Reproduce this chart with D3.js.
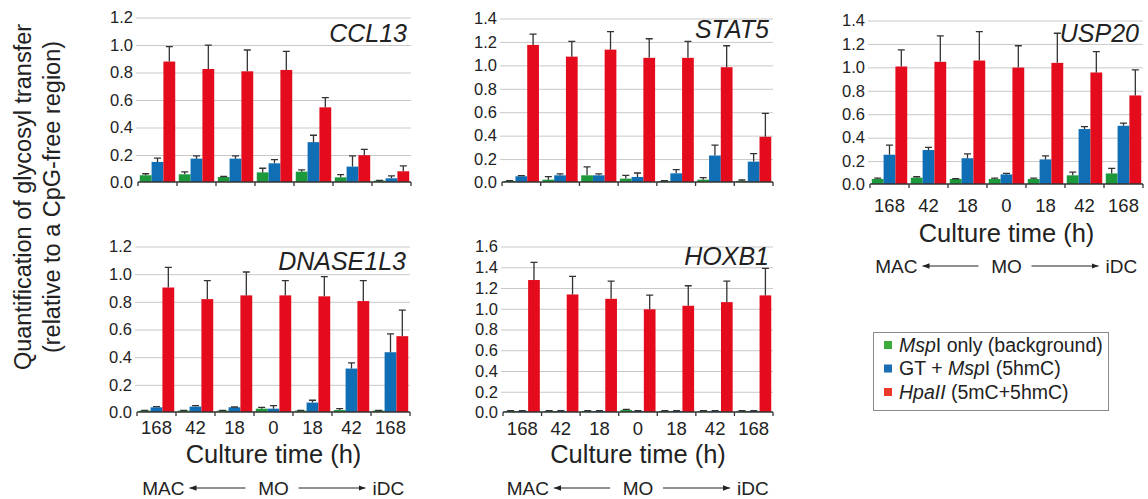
<!DOCTYPE html>
<html>
<head>
<meta charset="utf-8">
<style>
body { margin: 0; background: #fff; }
svg { display: block; font-family: "Liberation Sans", Arial, sans-serif; }
.grid line { stroke: #c9c9c9; stroke-width: 1px; }
.grid .domain { display: none; }
.grid text { fill: #222; font-size: 16.5px; }
.xlab .domain { display: none; }
.xlab text { fill: #222; font-size: 18.5px; }
.base { stroke: #333; stroke-width: 1.3px; }
.err { stroke: #333; stroke-width: 1.3px; fill: none; }
</style>
<script src="https://cdn.jsdelivr.net/npm/d3@7"></script>
</head>
<body>
<script>

// culture time groups: MAC <- MO -> iDC
var times = ["168", "42", "18", "0", "18", "42", "168"];

var barColors = ["#1c9a3b", "#106eb5", "#e30b1c"];
var legendColors = ["#3aab3a", "#1b6db4", "#e8392b"];

// [text, italic] pieces per legend row
var legendRows = [
  [["Msp", true], ["I only (background)", false]],
  [["GT + ", false], ["Msp", true], ["I (5hmC)", false]],
  [["HpaII", true], [" (5mC+5hmC)", false]]
];

// rows: MspI only, GT + MspI, HpaII
var ccl13Mean = [
  [0.049, 0.056, 0.036, 0.070, 0.075, 0.034, 0.010],
  [0.146, 0.170, 0.170, 0.136, 0.290, 0.112, 0.027],
  [0.876, 0.822, 0.805, 0.815, 0.543, 0.195, 0.078]
];
var ccl13Sd = [
  [0.011, 0.017, 0.004, 0.030, 0.013, 0.020, 0.002],
  [0.027, 0.020, 0.020, 0.027, 0.050, 0.078, 0.017],
  [0.109, 0.173, 0.155, 0.135, 0.070, 0.043, 0.039]
];

var stat5Mean = [
  [0.009, 0.020, 0.057, 0.029, 0.009, 0.020, 0.009],
  [0.049, 0.057, 0.057, 0.043, 0.074, 0.226, 0.174],
  [1.170, 1.070, 1.130, 1.060, 1.060, 0.980, 0.386]
];
var stat5Sd = [
  [0.003, 0.026, 0.072, 0.028, 0.003, 0.017, 0.008],
  [0.005, 0.012, 0.012, 0.034, 0.032, 0.088, 0.069],
  [0.093, 0.130, 0.153, 0.163, 0.140, 0.183, 0.200]
];

var usp20Mean = [
  [0.043, 0.054, 0.043, 0.043, 0.043, 0.074, 0.090],
  [0.250, 0.290, 0.220, 0.082, 0.210, 0.469, 0.497],
  [1.003, 1.043, 1.054, 0.994, 1.034, 0.952, 0.756]
];
var usp20Sd = [
  [0.007, 0.008, 0.002, 0.007, 0.007, 0.028, 0.043],
  [0.082, 0.022, 0.038, 0.008, 0.030, 0.020, 0.023],
  [0.142, 0.221, 0.246, 0.186, 0.253, 0.178, 0.218]
];

var dnaseMean = [
  [0.010, 0.010, 0.010, 0.024, 0.010, 0.014, 0.010],
  [0.034, 0.039, 0.034, 0.024, 0.068, 0.314, 0.432],
  [0.900, 0.816, 0.843, 0.843, 0.836, 0.802, 0.548]
];
var dnaseSd = [
  [0.002, 0.002, 0.002, 0.010, 0.002, 0.010, 0.001],
  [0.005, 0.007, 0.002, 0.022, 0.017, 0.041, 0.133],
  [0.146, 0.134, 0.169, 0.107, 0.142, 0.148, 0.189]
];

var hoxb1Mean = [
  [0.010, 0.010, 0.010, 0.020, 0.010, 0.010, 0.010],
  [0.010, 0.010, 0.010, 0.010, 0.010, 0.010, 0.010],
  [1.272, 1.133, 1.091, 0.990, 1.024, 1.059, 1.124]
];
var hoxb1Sd = [
  [0.002, 0.002, 0.002, 0.006, 0.002, 0.002, 0.002],
  [0.002, 0.002, 0.002, 0.002, 0.002, 0.002, 0.002],
  [0.170, 0.174, 0.171, 0.137, 0.193, 0.203, 0.260]
];

var panels = [
  {gene: "CCL13",    mean: ccl13Mean, sd: ccl13Sd, max: 1.2, left: 138, right: 411, top: 17,  bottom: 182, labelY: 42},
  {gene: "STAT5",    mean: stat5Mean, sd: stat5Sd, max: 1.4, left: 502, right: 773, top: 18,  bottom: 182, labelY: 38},
  {gene: "USP20",    mean: usp20Mean, sd: usp20Sd, max: 1.4, left: 870, right: 1143, top: 20, bottom: 184, labelY: 42,
     xAxis: {tick: 28, title: 58, arrows: 89}},
  {gene: "DNASE1L3", mean: dnaseMean, sd: dnaseSd, max: 1.2, left: 137, right: 410, top: 246, bottom: 412, labelY: 270,
     xAxis: {tick: 22, title: 51, arrows: 83}},
  {gene: "HOXB1",    mean: hoxb1Mean, sd: hoxb1Sd, max: 1.6, left: 503, right: 773, top: 246, bottom: 412, labelY: 265,
     xAxis: {tick: 23, title: 51, arrows: 83}}
];

var svg = d3.select("body").append("svg")
    .attr("width", 1148)
    .attr("height", 499);

var defs = svg.append("defs");
defs.append("marker")
    .attr("id", "head")
    .attr("viewBox", "0 0 10 10")
    .attr("refX", 10).attr("refY", 5)
    .attr("markerWidth", 7).attr("markerHeight", 7)
    .attr("markerUnits", "userSpaceOnUse")
    .attr("orient", "auto-start-reverse")
  .append("path")
    .attr("d", "M0,1L10,5L0,9Z")
    .attr("fill", "#222");

panels.forEach(function(p) {
  var g = svg.append("g");

  var y = d3.scaleLinear().domain([0, p.max]).range([p.bottom, p.top]);
  var x = d3.scaleBand().domain(d3.range(times.length)).range([p.left, p.right]);
  var xs = d3.scaleBand().domain(d3.range(3)).range([0, x.bandwidth()]).paddingOuter(0.15);

  var ticks = d3.range(0, p.max + 1e-6, 0.2);

  g.append("g")
      .attr("class", "grid")
      .attr("transform", "translate(" + (p.left - 2) + ",0.5)")
      .call(d3.axisLeft(y).tickValues(ticks).tickFormat(d3.format(".1f"))
        .tickSize(-(p.right - p.left + 2)).tickPadding(3))
    .selectAll(".tick")
      .filter(function(d) { return d === 0; })
      .select("line").remove();

  // gene name
  g.append("text")
      .attr("x", p.right - 4)
      .attr("y", p.labelY)
      .attr("text-anchor", "end")
      .style("font-size", "25px")
      .style("font-style", "italic")
      .style("fill", "#222")
      .text(p.gene);

  // bars
  var groups = g.selectAll(".grp")
    .data(times.map(function(t, i) { return i; }))
    .join("g")
      .attr("transform", function(i) { return "translate(" + x(i) + ",0)"; });

  groups.selectAll("rect")
    .data(function(i) { return p.mean.map(function(row, s) { return {s: s, v: row[i], e: p.sd[s][i]}; }); })
    .join("rect")
      .attr("x", function(d) { return xs(d.s); })
      .attr("width", xs.bandwidth())
      .attr("y", function(d) { return y(d.v); })
      .attr("height", function(d) { return y(0) - y(d.v); })
      .attr("fill", function(d) { return barColors[d.s]; });

  groups.selectAll("path.err")
    .data(function(i) { return p.mean.map(function(row, s) { return {s: s, v: row[i], e: p.sd[s][i]}; }); })
    .join("path")
      .attr("class", "err")
      .attr("d", function(d) {
        var cx = xs(d.s) + xs.bandwidth() / 2, top = y(d.v + d.e);
        return "M" + cx + "," + y(d.v) + "V" + top + "M" + (cx - 3.5) + "," + top + "H" + (cx + 3.5);
      });

  // baseline with group separators
  g.append("line")
      .attr("class", "base")
      .attr("x1", p.left).attr("x2", p.right)
      .attr("y1", y(0)).attr("y2", y(0));
  g.selectAll(".sep")
    .data(d3.range(times.length + 1))
    .join("line")
      .attr("class", "base")
      .attr("x1", function(i) { return i < times.length ? x(i) : p.right; })
      .attr("x2", function(i) { return i < times.length ? x(i) : p.right; })
      .attr("y1", y(0)).attr("y2", y(0) + 4);

  if (!p.xAxis) return;

  g.append("g")
      .attr("class", "xlab")
      .attr("transform", "translate(0," + p.bottom + ")")
      .call(d3.axisBottom(x).tickSize(0).tickPadding(0).tickFormat(function(i) { return times[i]; }))
    .selectAll("text")
      .attr("dy", null)
      .attr("y", p.xAxis.tick);

  var cx = (p.left + p.right) / 2;

  g.append("text")
      .attr("x", cx)
      .attr("y", p.bottom + p.xAxis.title)
      .attr("text-anchor", "middle")
      .style("font-size", "25.5px")
      .style("fill", "#222")
      .text("Culture time (h)");

  var ay = p.bottom + p.xAxis.arrows;
  var row = g.append("g").style("font-size", "19px").style("fill", "#222");
  row.append("text").attr("x", cx - 89).attr("y", ay).attr("text-anchor", "end").text("MAC");
  row.append("text").attr("x", cx).attr("y", ay).attr("text-anchor", "middle").text("MO");
  row.append("text").attr("x", cx + 99).attr("y", ay).attr("text-anchor", "start").text("iDC");

  g.append("line")
      .attr("x1", cx - 28).attr("x2", cx - 84)
      .attr("y1", ay - 7).attr("y2", ay - 7)
      .attr("stroke", "#222").attr("stroke-width", 1.2)
      .attr("marker-end", "url(#head)");
  g.append("line")
      .attr("x1", cx + 25).attr("x2", cx + 92)
      .attr("y1", ay - 7).attr("y2", ay - 7)
      .attr("stroke", "#222").attr("stroke-width", 1.2)
      .attr("marker-end", "url(#head)");
});

// y title
var yt = svg.append("text")
    .attr("transform", "translate(31,197) rotate(-90)")
    .attr("text-anchor", "middle")
    .style("font-size", "23.5px")
    .style("fill", "#222");
yt.append("tspan").attr("x", 0).attr("y", 0).text("Quantification of glycosyl transfer");
yt.append("tspan").attr("x", 0).attr("y", 29).text("(relative to a CpG-free region)");

// legend
var lg = svg.append("g").attr("transform", "translate(873,332)");
lg.append("rect")
    .attr("x", 0.5).attr("y", 0.5)
    .attr("width", 235).attr("height", 78)
    .attr("fill", "#fff").attr("stroke", "#8a8a8a");

var items = lg.selectAll(".item")
  .data(legendRows)
  .join("g")
    .attr("transform", function(d, i) { return "translate(0," + (13 + i * 23.5) + ")"; });

items.append("rect")
    .attr("x", 11).attr("y", -4)
    .attr("width", 8).attr("height", 8)
    .attr("fill", function(d, i) { return legendColors[i]; });

items.append("text")
    .attr("x", 26).attr("y", 6.5)
    .style("font-size", "19.5px")
    .style("fill", "#222")
  .selectAll("tspan")
  .data(function(d) { return d; })
  .join("tspan")
    .style("font-style", function(d) { return d[1] ? "italic" : "normal"; })
    .text(function(d) { return d[0]; });

</script>
</body>
</html>
